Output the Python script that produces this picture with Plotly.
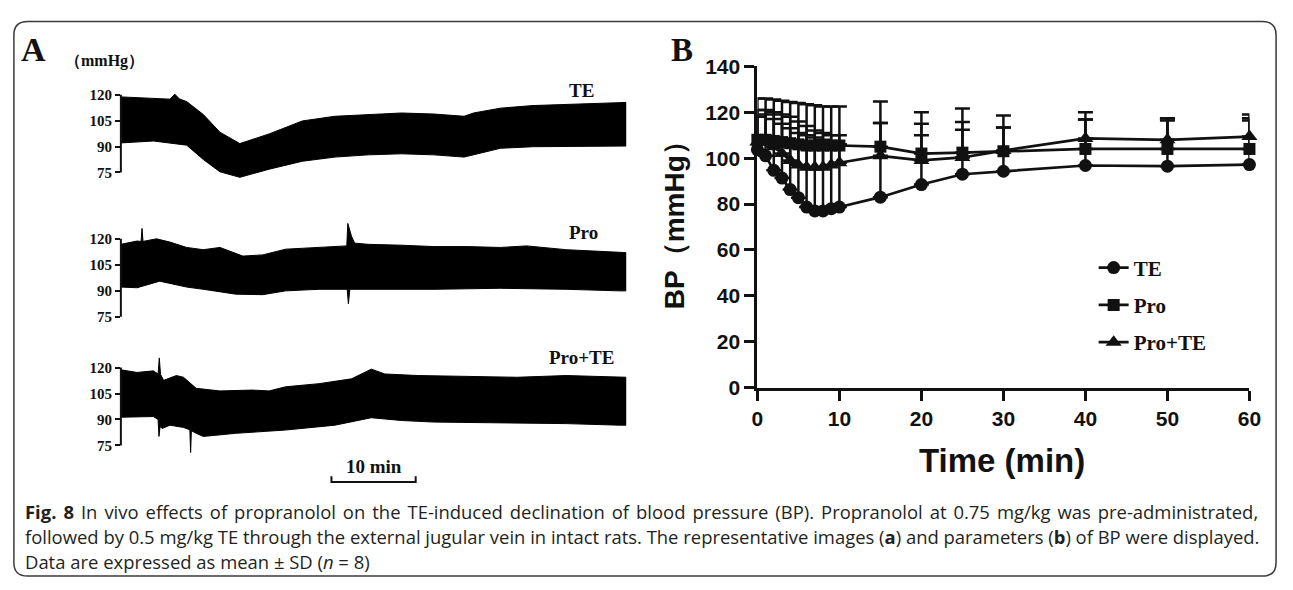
import plotly.graph_objects as go

W, H = 1293, 590

# ---------------- Panel A: recorded BP envelopes (min, mmHg) ----------------
te_up_t = [0, 3.86, 5.83, 6.4, 6.96, 7.81, 9.79, 11.76, 14.12, 17.6, 21.55, 25.41, 29.36, 33.31, 37.17, 40.75, 41.87, 45.07, 48.93, 52.88, 59.19, 60]
te_up = [118.7, 118.0, 117.4, 120.3, 117.5, 116.0, 108.5, 98.3, 91.7, 97.3, 104.8, 107.5, 108.5, 109.4, 108.8, 107.5, 109.4, 112.2, 113.7, 114.4, 115.5, 115.5]
te_lo_t = [0, 3.86, 7.81, 9.79, 11.76, 14.12, 17.6, 21.55, 25.41, 29.36, 33.31, 37.17, 40.75, 45.07, 48.93, 52.88, 59.19, 60]
te_lo = [92.1, 93.2, 90.8, 82.5, 75.4, 72.2, 76.9, 81.5, 83.9, 85.2, 85.8, 85.2, 83.9, 89.0, 89.9, 90.3, 90.3, 90.3]

pro_up_t = [0, 1.92, 2.4, 2.51, 2.63, 4.23, 5.83, 7.81, 9.79, 11.76, 14.49, 16.84, 19.57, 23.53, 26.82, 26.94, 27.38, 27.76, 29.36, 33.31, 37.17, 41.12, 45.07, 48.18, 52.88, 59.19, 60]
pro_up = [116.8, 118.7, 118.5, 126.0, 118.5, 120.0, 118.1, 115.0, 113.7, 115.0, 110.0, 110.7, 114.0, 115.0, 115.9, 128.9, 121.5, 117.5, 116.8, 116.3, 115.5, 115.5, 115.0, 115.9, 113.7, 112.2, 112.0]
pro_lo_t = [0, 1.92, 4.61, 7.81, 9.79, 13.64, 16.84, 19.57, 23.53, 26.87, 27.01, 27.19, 29.36, 37.17, 45.07, 52.88, 59.19, 60]
pro_lo = [92.1, 91.7, 95.5, 92.1, 90.8, 88.0, 87.7, 89.9, 90.8, 90.8, 82.5, 90.8, 90.8, 90.8, 91.4, 90.8, 89.9, 89.9]

pt_up_t = [0, 1.92, 3.86, 4.42, 4.56, 4.71, 5.08, 6.59, 7.43, 8.94, 11.76, 15.62, 17.6, 19.57, 23.53, 27.38, 29.74, 31.34, 35.29, 41.12, 47.05, 52.88, 59.19, 60]
pt_up = [118.7, 117.2, 118.1, 116.3, 125.6, 116.0, 112.6, 115.4, 114.4, 108.0, 106.5, 107.0, 106.5, 108.9, 110.7, 113.5, 119.1, 116.3, 115.4, 115.0, 114.4, 115.4, 114.4, 114.4]
pt_lo_t = [0, 3.86, 4.42, 4.52, 4.66, 4.89, 5.83, 7.43, 8.19, 8.28, 8.37, 8.94, 9.79, 13.64, 19.57, 25.41, 29.74, 33.31, 37.17, 45.07, 52.88, 59.19, 60]
pt_lo = [91.3, 91.7, 90.0, 80.2, 86.0, 84.8, 86.7, 85.4, 84.0, 70.9, 83.5, 82.0, 80.2, 82.0, 83.9, 86.7, 91.0, 89.4, 88.5, 88.0, 87.6, 86.7, 86.7]

trace_names = ["TE", "Pro", "Pro+TE"]
a_ticks = [75, 90, 105, 120]
scale_bar = [25, 35]  # 10 min

# ---------------- Panel B: mean ± SD ----------------
times = [0, 1, 2, 3, 4, 5, 6, 7, 8, 9, 10, 15, 20, 25, 30, 40, 50, 60]
te_mean = [103.7, 101, 94.7, 91.3, 86.3, 82.8, 78.7, 77, 77, 78, 78.7, 83, 88.5, 93, 94.3, 96.8, 96.5, 97.2]
te_sd = [22.3, 25, 30.8, 33.7, 38.2, 41.2, 44.8, 46, 45.5, 44.5, 43.8, 32.3, 26.5, 22.7, 19, 20, 19.9, 19.2]
pro_mean = [108, 108, 107.5, 107, 106.5, 106, 105.5, 105.5, 105.5, 105.5, 105.5, 105, 102, 102.4, 103, 104, 104, 104]
pro_sd = [13, 13, 12.5, 12, 11.5, 10, 8.5, 6.5, 5.5, 4.5, 4.5, 19.7, 18, 19.2, 15.6, 16, 13.4, 15]
pt_mean = [107, 108, 105, 102, 99, 97, 96, 96, 96, 97, 98, 101, 99, 100.3, 103.3, 108.6, 108, 109.4]
pt_sd = [11, 11, 12, 13, 14, 14, 14, 13, 12, 10, 8, 14.3, 11, 12.1, 10, 8.2, 9.4, 8]
b_xticks = [0, 10, 20, 30, 40, 50, 60]
b_yticks = [0, 20, 40, 60, 80, 100, 120, 140]

INK = "#111111"
SERIF = "Liberation Serif"
SANS = "Liberation Sans"


def px_x(p):
    return p / W


def px_y(p):
    return 1 - p / H


def a_range(p120, p75, ptop, pbot):
    s = (p75 - p120) / 45.0
    return [75 - (pbot - p75) / s, 120 + (p120 - ptop) / s]


fig = go.Figure()

# ---------- Panel A ----------
a_layout = [  # (p120, p75, ptop, pbot, label_x, label_y)
    (86, 167, 66, 176, 584, 82),
    (236, 317, 214, 326, 586, 229),
    (370, 451, 348, 462, 584, 360),
]
envs = [(te_up_t, te_up, te_lo_t, te_lo), (pro_up_t, pro_up, pro_lo_t, pro_lo), (pt_up_t, pt_up, pt_lo_t, pt_lo)]
for i, (ut, uv, lt, lv) in enumerate(envs):
    k = "" if i == 0 else str(i + 1)
    fig.add_trace(go.Scatter(
        x=ut + lt[::-1], y=uv + lv[::-1], mode="lines", fill="toself",
        fillcolor="#000000", line=dict(color="#000000", width=1),
        xaxis="x" + k, yaxis="y" + k, showlegend=False, hoverinfo="skip"))

A_X0, A_X1 = 116.5, 629
for i, (p120, p75, ptop, pbot, lx, ly) in enumerate(a_layout):
    k = "" if i == 0 else str(i + 1)
    fig.layout["xaxis" + k] = dict(domain=[px_x(A_X0), px_x(A_X1)], range=[0, 60], visible=False,
                                   anchor="y" + k, fixedrange=True)
    fig.layout["yaxis" + k] = dict(domain=[px_y(pbot), px_y(ptop)], range=a_range(p120, p75, ptop, pbot),
                                   anchor="x" + k, tickvals=a_ticks, ticks="outside", ticklen=5,
                                   tickwidth=2, tickcolor=INK, showgrid=False, zeroline=False,
                                   showline=False, fixedrange=True,
                                   tickfont=dict(family=SERIF, size=15, color=INK, weight="bold"))
    fig.add_shape(type="line", xref="x" + k + " domain", yref="y" + k, x0=0, x1=0, y0=75, y1=120,
                  line=dict(color=INK, width=2))
    fig.add_annotation(x=px_x(lx), y=px_y(ly), xref="paper", yref="paper", text=trace_names[i],
                       showarrow=False, xanchor="center", yanchor="middle",
                       font=dict(family=SERIF, size=19, color=INK, weight="bold"))

# scale bar (10 min)
s0, s1 = scale_bar
fig.add_shape(type="path", xref="x3", yref="paper",
              path=f"M {s0},{px_y(483)} L {s0},{px_y(489)} L {s1},{px_y(489)} L {s1},{px_y(483)}",
              line=dict(color=INK, width=2))
fig.add_annotation(x=(s0 + s1) / 2, y=px_y(473), xref="x3", yref="paper", text="10 min", showarrow=False,
                   xanchor="center", yanchor="middle",
                   font=dict(family=SERIF, size=19, color=INK, weight="bold"))

# ---------- Panel B ----------
symbols = ["circle", "square", "triangle-up"]
sizes = [13, 12, 14]
for name, m, sd, sym, sz in zip(trace_names, [te_mean, pro_mean, pt_mean], [te_sd, pro_sd, pt_sd], symbols, sizes):
    fig.add_trace(go.Scatter(
        x=times, y=m, name=name, mode="lines+markers", xaxis="x4", yaxis="y4",
        line=dict(color=INK, width=2.7), marker=dict(symbol=sym, size=sz, color=INK),
        error_y=dict(type="data", array=sd, arrayminus=[0] * len(sd), symmetric=False,
                     color=INK, thickness=2.5, width=7.5),
        cliponaxis=False, legendgroup=name))

B_X0, B_X60, B_Y0, B_Y140 = 762, 1261, 391, 56.5
axfont = dict(family=SANS, size=21, color=INK, weight="bold")
fig.layout.xaxis4 = dict(domain=[px_x(B_X0), px_x(B_X60)], range=[0, 60], anchor="y4",
                         tickvals=b_xticks, ticks="outside", ticklen=10, tickwidth=3,
                         tickcolor=INK, showline=True, linecolor=INK, linewidth=3, showgrid=False,
                         zeroline=False, tickfont=axfont, fixedrange=True)
fig.layout.yaxis4 = dict(domain=[px_y(B_Y0), px_y(B_Y140)], range=[0, 140], anchor="x4",
                         tickvals=b_yticks, ticks="outside", ticklen=10,
                         tickwidth=3, tickcolor=INK, showline=True, linecolor=INK, linewidth=3,
                         showgrid=False, zeroline=False, tickfont=axfont, fixedrange=True)

fig.add_annotation(x=px_x(678), y=px_y(215), xref="paper", yref="paper", text="BP（mmHg）",
                   textangle=-90, showarrow=False, xanchor="center", yanchor="middle",
                   font=dict(family=SANS, size=28, color=INK, weight="bold"))
fig.add_annotation(x=px_x(1010), y=px_y(467), xref="paper", yref="paper", text="Time (min)",
                   showarrow=False, xanchor="center", yanchor="middle",
                   font=dict(family=SANS, size=33, color=INK, weight="bold"))

# panel letters and units
fig.add_annotation(x=px_x(28), y=px_y(39), xref="paper", yref="paper", text="A", showarrow=False,
                   xanchor="center", yanchor="middle",
                   font=dict(family=SERIF, size=34, color=INK, weight="bold"))
fig.add_annotation(x=px_x(686), y=px_y(40), xref="paper", yref="paper", text="B", showarrow=False,
                   xanchor="center", yanchor="middle",
                   font=dict(family=SERIF, size=33, color=INK, weight="bold"))
fig.add_annotation(x=px_x(100), y=px_y(51), xref="paper", yref="paper", text="（mmHg）",
                   showarrow=False, xanchor="center", yanchor="middle",
                   font=dict(family=SERIF, size=16, color=INK, weight="bold"))

# ---------- caption (justified look via word spacing) ----------
cap_font = dict(family="Open Sans", size=18.45, color="#231f20")
cap_lines = [
    "<b>Fig. 8</b> In vivo effects of propranolol on the TE-induced declination of blood pressure (BP). Propranolol at 0.75 mg/kg was pre-administrated,",
    "followed by 0.5 mg/kg TE through the external jugular vein in intact rats. The representative images (<b>a</b>) and parameters (<b>b</b>) of BP were displayed.",
    "Data are expressed as mean ± SD (<i>n</i> = 8)",
]
cap_wordspace = [2.2, 0, 0]
for line, yy, ws in zip(cap_lines, [520, 546, 572], cap_wordspace):
    txt = f'<span style="word-spacing:{ws}px">{line}</span>' if ws else line
    fig.add_annotation(x=px_x(17), y=px_y(yy), xref="paper", yref="paper", text=txt, showarrow=False,
                       xanchor="left", yanchor="middle", font=cap_font)

# ---------- rounded border ----------
L, T, R, B, r = 8, 10, 1288, 587, 14
rx, ry = r / W, r / H
xl, xr, yt, yb = px_x(L), px_x(R), px_y(T), px_y(B)
path = (f"M {xl + rx},{yt} L {xr - rx},{yt} Q {xr},{yt} {xr},{yt - ry} L {xr},{yb + ry} "
        f"Q {xr},{yb} {xr - rx},{yb} L {xl + rx},{yb} Q {xl},{yb} {xl},{yb + ry} "
        f"L {xl},{yt - ry} Q {xl},{yt} {xl + rx},{yt} Z")
fig.add_shape(type="path", xref="paper", yref="paper", path=path, line=dict(color="#3a3a3a", width=1.5),
              layer="below")

fig.update_layout(
    width=W, height=H, autosize=False, margin=dict(l=0, r=0, t=0, b=0, pad=0),
    paper_bgcolor="white", plot_bgcolor="rgba(0,0,0,0)",
    legend=dict(x=px_x(1103), y=px_y(245), xanchor="left", yanchor="top",
                font=dict(family=SERIF, size=21, color=INK, weight="bold"),
                tracegroupgap=7, itemwidth=30, bgcolor="rgba(0,0,0,0)", traceorder="grouped"),
    showlegend=True,
)

fig.write_html("out.html", config={"displayModeBar": False},
               post_script="document.body.style.margin='0';document.body.style.overflow='hidden';")
